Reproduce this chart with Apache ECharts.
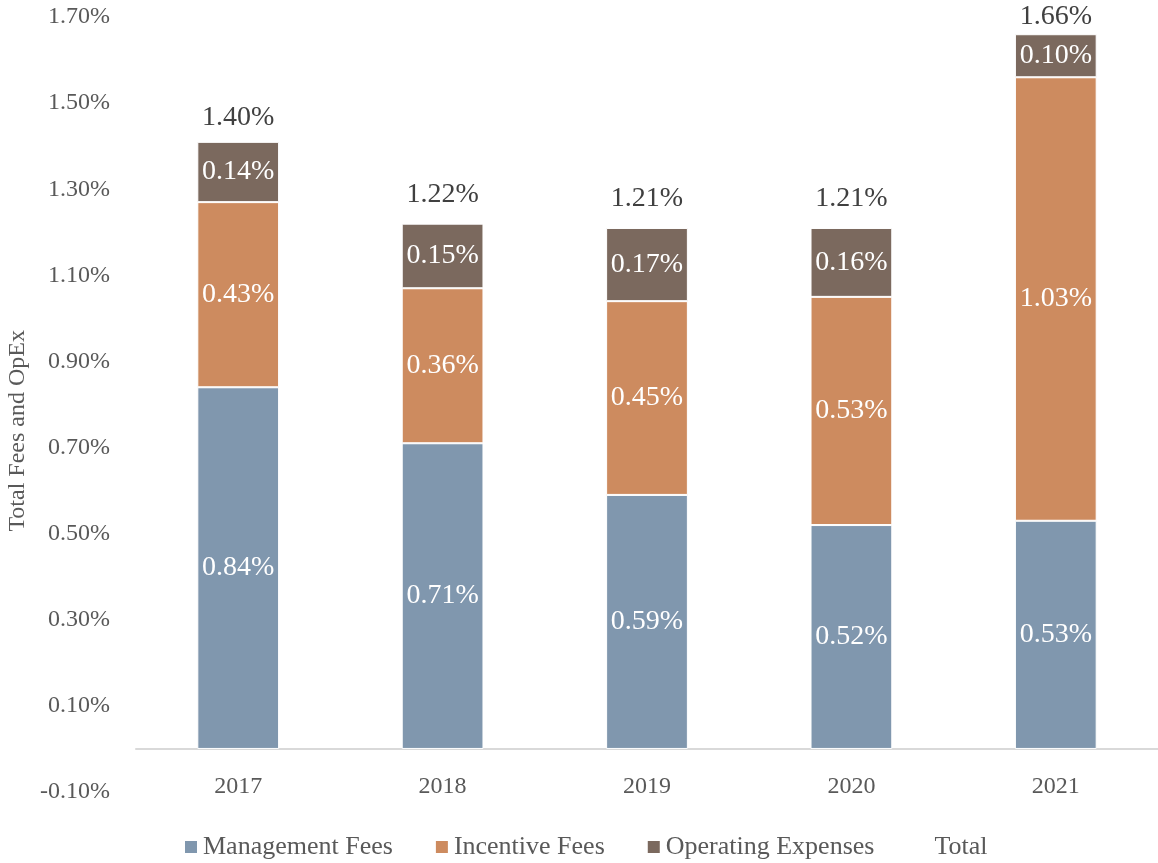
<!DOCTYPE html>
<html>
<head>
<meta charset="utf-8">
<script src="https://cdn.jsdelivr.net/npm/echarts@6/dist/echarts.min.js"></script>
<style>html,body{margin:0;padding:0;background:#fff}#c{width:1158px;height:863px}</style>
</head>
<body>
<div id="c"></div>
<script>
const categories = ['2017', '2018', '2019', '2020', '2021'];
const managementFees = [0.84, 0.71, 0.59, 0.52, 0.53];
const incentiveFees = [0.43, 0.36, 0.45, 0.53, 1.03];
const operatingExpenses = [0.14, 0.15, 0.17, 0.16, 0.10];
const totals = [1.40, 1.22, 1.21, 1.21, 1.66];
const yTicks = { min: -0.1, max: 1.7, interval: 0.2 };

const FONT = "'Liberation Serif', 'DejaVu Serif', serif";
const pct = v => (typeof v === 'object' ? v.value : v).toFixed(2) + '%';

function barSeries(name, data, color) {
  return {
    name, type: 'bar', stack: 'fees', data, barWidth: '40%',
    itemStyle: { color, borderColor: '#ffffff', borderWidth: 1 },
    label: { show: true, position: 'inside', color: '#ffffff', fontFamily: FONT, fontSize: 28,
      formatter: p => pct(p.value) }
  };
}

const chart = echarts.init(document.getElementById('c'), null, { renderer: 'canvas' });
chart.setOption({
  animation: false,
  backgroundColor: '#ffffff',
  grid: { left: 136, right: -9, top: 17, bottom: 71, containLabel: false },
  legend: {
    bottom: -2, left: 178, itemWidth: 14, itemHeight: 14, itemGap: 41,
    icon: 'rect',
    textStyle: { color: '#595959', fontFamily: FONT, fontSize: 26 },
    data: ['Management Fees', 'Incentive Fees', 'Operating Expenses',
      { name: 'Total', icon: 'rect', itemStyle: { color: 'rgba(0,0,0,0)' } }]
  },
  xAxis: {
    type: 'category', data: categories,
    axisLine: { onZero: true, lineStyle: { color: '#d9d9d9', width: 2 } },
    axisTick: { show: false },
    axisLabel: { color: '#595959', fontFamily: FONT, fontSize: 24, margin: -17 }
  },
  yAxis: {
    type: 'value', min: yTicks.min, max: yTicks.max, interval: yTicks.interval,
    axisLine: { show: false }, axisTick: { show: false }, splitLine: { show: false },
    axisLabel: { color: '#595959', fontFamily: FONT, fontSize: 24, margin: 26,
      formatter: v => (Math.round(v * 100) / 100).toFixed(2) + '%' }
  },
  graphic: [{
    type: 'text', left: 6, top: 330, rotation: Math.PI / 2,
    style: { text: 'Total Fees and OpEx', fill: '#595959', font: "24px 'Liberation Serif', serif" }
  }],
  series: [
    barSeries('Management Fees', managementFees, '#8097ae'),
    barSeries('Incentive Fees', incentiveFees, '#cd8b5f'),
    barSeries('Operating Expenses', operatingExpenses, '#7b695e'),
    {
      name: 'Total', type: 'line', data: totals, symbol: 'circle', symbolSize: 2,
      itemStyle: { color: 'rgba(0,0,0,0)' }, lineStyle: { width: 0, color: 'rgba(0,0,0,0)' },
      label: { show: true, position: 'top', distance: 14, color: '#404040', fontFamily: FONT, fontSize: 28,
        formatter: p => pct(p.value) },
      labelLayout: p => (p.labelRect.y < 3 ? { dy: 3 - p.labelRect.y } : {})
    }
  ]
});
</script>
</body>
</html>
